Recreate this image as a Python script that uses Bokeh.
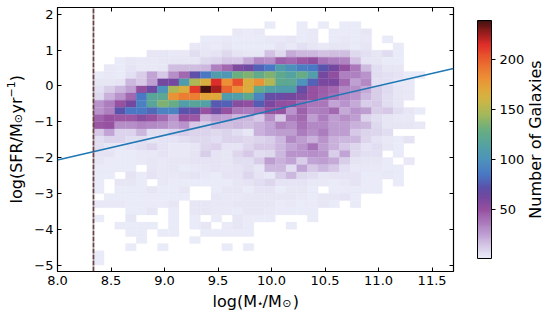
import math
import numpy as np
from bokeh.plotting import figure
from bokeh.embed import file_html
from bokeh.resources import INLINE
from bokeh.core.properties import value
from bokeh.models import ColumnDataSource, LinearColorMapper, ColorBar, LinearAxis, FixedTicker

x_start = 8.335
x_bin = 0.1
y_bin = 0.2
vmin, vmax = 1, 239
x_lim = (8.0, 11.7)
y_lim = (-5.18, 2.19)
x_ticks = [8.0, 8.5, 9.0, 9.5, 10.0, 10.5, 11.0, 11.5]
y_ticks = [-5, -4, -3, -2, -1, 0, 1, 2]
cb_ticks = [50, 100, 150, 200]
line_x = [8.0, 11.7]
line_y = [-2.07, 0.49]
cut_x = 8.336

r_p18 = [0]*16 + [1,0,0,1,0,1,0,1,1]
r_p16 = [0]*13 + [2,1,2,0,0,0,1,2,0,1,1,1,3]
r_p14 = [0]*10 + [1,1,2,1,1,1,2,2,3,1,2,0,1,2,1,2,0,1]
r_p12 = [0]*9 + [2,2,1,3,1,1,1,1,4,2,5,3,2,3,3,1,3,0,0,1]
r_p10 = [0]*5 + [3,3,2,2,6,3,4,8,4,3,3,15,8,22,18,18,15,16,16,8,5,3,7,1]
r_p08 = [0,0,1,3,2,2,3,3,3,3,8,10,14,14,22,32,30,45,42,48,52,40,36,34,15,4,3,1,1]
r_p06 = [0,2,1,4,2,2,3,16,16,16,18,35,42,58,65,78,85,108,98,88,85,72,62,52,38,17,6,3,3]
r_p04 = [1,2,1,5,12,24,14,30,42,70,85,108,105,130,135,125,135,122,115,128,110,62,52,35,35,28,6,5,4,1,1]
r_p02 = [3,3,4,18,14,25,62,62,108,148,165,215,182,205,168,180,150,122,120,100,78,60,60,42,25,32,5,5,2,2]
r_000 = [5,12,18,25,52,65,100,148,165,212,239,225,198,182,168,125,112,108,108,68,50,46,42,32,30,22,12,7,3,2]
r_m02 = [8,20,28,42,85,118,120,180,188,188,172,170,108,110,122,92,68,66,62,58,50,45,40,32,28,18,12,6,3,2]
r_m04 = [28,36,50,62,90,118,135,128,110,118,112,75,78,55,52,76,60,52,50,42,38,38,24,28,22,12,14,6,3]
r_m06 = [28,35,72,85,85,80,92,92,72,68,50,65,50,38,36,40,50,50,28,45,35,36,42,22,28,26,12,14,6,3,1]
r_m08 = [44,50,48,48,55,50,42,30,50,48,20,26,24,18,18,14,30,14,38,42,26,36,26,30,26,10,6,3,2,2]
r_m10 = [48,50,30,30,34,32,30,25,28,14,12,18,16,18,16,20,24,34,30,40,32,32,26,26,20,18,8,3,3,3,2]
r_m12 = [14,24,10,10,18,6,6,10,12,10,10,8,10,6,3,20,24,26,26,36,30,36,26,26,14,10,9,6]
r_m14 = [6,10,10,6,6,3,4,4,6,8,8,6,10,10,8,10,12,18,32,26,20,28,20,18,18,9,4,2,1,4]
r_m16 = [6,3,2,4,6,9,4,2,2,3,9,11,4,4,9,14,14,18,24,28,40,26,20,14,9,4,6,3,1]
r_m18 = [4,4,1,1,2,2,4,2,2,4,12,4,3,9,14,6,8,18,28,28,30,28,12,24,8,5,5,0,1]
r_m20 = [3,1,1,1,2,3,2,3,3,4,4,4,3,6,6,12,26,20,24,12,24,26,22,12,4,3,3,1,0,2]
r_m22 = [1,1,1,1,0,3,2,3,1,2,3,4,3,4,6,3,18,18,6,24,14,18,14,5,2,2,2,1,1]
r_m24 = [1,1,0,4,1,4,2,2,3,4,2,1,4,4,9,4,2,12,18,8,6,3,4,4,4,1,1,2,1]
r_m26 = [1,0,3,3,1,0,2,1,1,1,1,1,1,3,4,6,9,4,4,4,2,2,1,2,4,1,1,0,1]
r_m28 = [1,0,1,1,1,3,1,1,3,0,0,1,3,3,1,4,4,1,3,3,1,0,1,1,1,1,1]
r_m30 = [0,1,1,1,1,1,1,1,1,0,0,3,2,2,3,3,3,3,3,2,1,3,3,4,1]
r_m32 = [2,2,2,1,1,1,1,3,0,3,3,2,2,3,3,3,3,1,2,1,1,3,1,0,1]
r_m34 = [0,0,0,1,1,3,0,1,0,3,3,2,2,1,3,3,2,1,1,1,1]
r_m36 = [1,0,0,3,0,0,0,1,0,1,0,1,0,3,1,1,1,0,0,0,1]
r_m38 = [0,0,1,1,1,1,0,1,0,1,3,0,1,3,1,0,0,0,1]
r_m40 = [0,0,0,1,1,0,1,1,0,0,1,1,1,1,1]
r_m42 = [0,0,0,0,1,0,0,0,0,1]
r_m44 = [0,0,0,1,0,0,1,0,0,0,0,0,1,0,1]
r_m46 = [1]
r_m48 = [1]

rows = [(1.8, r_p18), (1.6, r_p16), (1.4, r_p14), (1.2, r_p12), (1.0, r_p10), (0.8, r_p08),
        (0.6, r_p06), (0.4, r_p04), (0.2, r_p02), (0.0, r_000), (-0.2, r_m02), (-0.4, r_m04),
        (-0.6, r_m06), (-0.8, r_m08), (-1.0, r_m10), (-1.2, r_m12), (-1.4, r_m14), (-1.6, r_m16),
        (-1.8, r_m18), (-2.0, r_m20), (-2.2, r_m22), (-2.4, r_m24), (-2.6, r_m26), (-2.8, r_m28),
        (-3.0, r_m30), (-3.2, r_m32), (-3.4, r_m34), (-3.6, r_m36), (-3.8, r_m38), (-4.0, r_m40),
        (-4.2, r_m42), (-4.4, r_m44), (-4.6, r_m46), (-4.8, r_m48)]

stops_v = [1, 12, 25, 40, 50, 62, 72, 85, 100, 115, 130, 145, 160, 170, 182, 195, 207, 215, 225, 239]
stops_c = ["#e9ebf8", "#d8cce8", "#be9ed2", "#a56fb5", "#95509f", "#74489f", "#5a52ab", "#4a78c4",
           "#4d93bb", "#55a3a0", "#6aae80", "#a3b85a", "#cfb545", "#e0a83a", "#ec8f35", "#ea6e30",
           "#e64a2c", "#df2e2a", "#a51f1f", "#431210"]

rgb = np.array([[int(c[i:i + 2], 16) for i in (1, 3, 5)] for c in stops_c], float)
levels = np.linspace(vmin, vmax, 256)
palette = ["#%02x%02x%02x" % tuple(int(round(np.interp(v, stops_v, rgb[:, k]))) for k in range(3))
           for v in levels]
mapper = LinearColorMapper(palette=palette, low=vmin, high=vmax)

left, right, top, bottom, count = [], [], [], [], []
for ytop, vals in rows:
    for i, v in enumerate(vals):
        if v > 0:
            left.append(x_start + i * x_bin)
            right.append(x_start + (i + 1) * x_bin)
            top.append(ytop)
            bottom.append(ytop - y_bin)
            count.append(v)
src = ColumnDataSource(dict(left=left, right=right, top=top, bottom=bottom, count=count))

FONT = "DejaVu Sans"
FL, FT, FW, FH = 57, 7, 396, 264
p = figure(width=551, height=318, frame_width=FW, frame_height=FH,
           x_range=x_lim, y_range=y_lim,
           output_backend="svg", toolbar_location=None,
           min_border_left=FL, min_border_top=FT, min_border_bottom=47, min_border_right=98)
p.grid.visible = False
p.background_fill_color = "white"
p.outline_line_color = "black"
p.outline_line_width = 1.2

fill = {"field": "count", "transform": mapper}
p.quad(left="left", right="right", top="top", bottom="bottom", source=src,
       fill_color=fill, line_color=fill, line_width=0.3)
p.line(line_x, line_y, line_color="#1f77b4", line_width=1.5)
p.line([cut_x, cut_x], list(y_lim), line_color="#6a4444", line_width=1.8, line_dash="5 1")

x_over = {v: f"{v:.1f}" for v in x_ticks}
y_over = {v: str(v).replace("-", "\u2212") for v in y_ticks}
xa, ya = p.xaxis[0], p.yaxis[0]
xa.ticker = FixedTicker(ticks=x_ticks)
ya.ticker = FixedTicker(ticks=y_ticks)
xa.major_label_overrides = x_over
ya.major_label_overrides = y_over
for ax in (xa, ya):
    ax.major_tick_in = 4
    ax.major_tick_out = 0
    ax.minor_tick_line_color = None
    ax.axis_line_color = None
    ax.major_tick_line_color = "black"
    ax.major_label_text_font = FONT
    ax.major_label_text_font_size = "13px"
    ax.major_label_text_color = "black"
    ax.major_label_standoff = 4

top_ax = LinearAxis(ticker=FixedTicker(ticks=x_ticks))
right_ax = LinearAxis(ticker=FixedTicker(ticks=y_ticks))
for ax in (top_ax, right_ax):
    ax.major_tick_in = 4
    ax.major_tick_out = 0
    ax.minor_tick_line_color = None
    ax.axis_line_color = None
    ax.major_label_text_font_size = "0px"
    ax.major_label_text_color = None
    ax.major_label_standoff = 0
p.add_layout(top_ax, "above")
p.add_layout(right_ax, "right")

cb = ColorBar(color_mapper=mapper, ticker=FixedTicker(ticks=cb_ticks), width=14, height=238,
              location=(24, 13), padding=0, margin=0,
              major_tick_in=0, major_tick_out=4, major_tick_line_color="black",
              minor_tick_line_color=None, bar_line_color="black", bar_line_width=1,
              major_label_text_font=FONT, major_label_text_font_size="13px",
              major_label_text_color="black", label_standoff=4)
p.add_layout(cb, "right")


def piece(text, px, py, size=16, angle=0.0, align="left", baseline="alphabetic"):
    # text outside the frame has to be a glyph at annotation level; page pixels -> data
    dx = x_lim[0] + (px - FL) / FW * (x_lim[1] - x_lim[0])
    dy = y_lim[1] - (py - FT) / FH * (y_lim[1] - y_lim[0])
    p.text([dx], [dy], text=[text], angle=angle, level="annotation", text_align=align,
           text_baseline=baseline, text_font=value(FONT), text_font_size=f"{size}px",
           text_color="black")


UP = math.pi / 2
piece("log(M", 212, 300.5)
piece("\u22c6", 256.3, 303, 11)
piece("/M", 262, 300.5)
piece("\u2299", 281.8, 303, 11)
piece(")", 292.3, 300.5)

piece("log(SFR/M", 15.5, 203, angle=UP)
piece("\u2299", 18, 122.7, 11, angle=UP)
piece("yr", 15.5, 113, angle=UP)
piece("\u22121", 10.5, 97, 11, angle=UP)
piece(")", 15.5, 80.8, angle=UP)

piece("Number of Galaxies", 535, 139, angle=UP, align="center", baseline="middle")

open("out.html", "w").write(file_html(p, INLINE))
